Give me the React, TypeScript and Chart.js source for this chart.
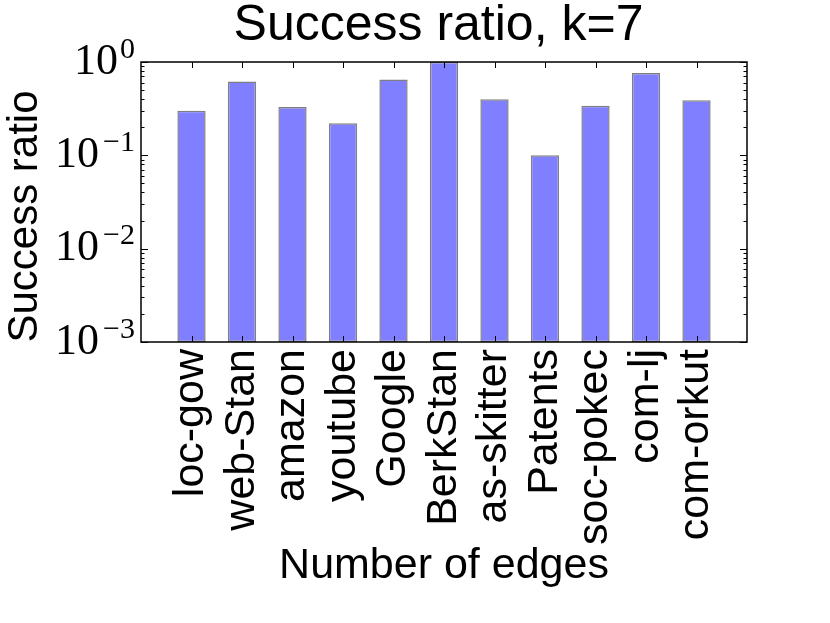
import { useEffect, useRef } from 'react';
import { Chart, registerables } from 'chart.js';

Chart.register(...registerables);

const categories = ['loc-gow', 'web-Stan', 'amazon', 'youtube', 'Google', 'BerkStan', 'as-skitter', 'Patents', 'soc-pokec', 'com-lj', 'com-orkut'];
const successRatio = [0.30, 0.62, 0.33, 0.22, 0.65, 1.0, 0.40, 0.10, 0.34, 0.76, 0.39];
const yDecades = [-3, -2, -1, 0];
const minorMultipliers = [2, 3, 4, 5, 6, 7, 8, 9];

const SANS = "'Liberation Sans', Arial, Helvetica, sans-serif";
const SERIF = "'Liberation Serif', 'Times New Roman', serif";

export default function App() {
  const ref = useRef<HTMLCanvasElement>(null);

  useEffect(() => {
    const canvas = ref.current;
    if (!canvas) return;

    const mplPlugin = {
      id: 'mplFrame',
      afterDraw(chart: any) {
        const { ctx, chartArea: a, scales } = chart;
        const xs = scales.x;
        const ys = scales.y;
        ctx.save();
        ctx.strokeStyle = '#000';
        ctx.lineWidth = 1;
        ctx.beginPath();
        // x major ticks (bottom + top), inward
        categories.forEach((_, i) => {
          const px = Math.round(xs.getPixelForValue(i + 1)) + 0.5;
          ctx.moveTo(px, a.bottom);
          ctx.lineTo(px, a.bottom - 6);
          ctx.moveTo(px, a.top);
          ctx.lineTo(px, a.top + 6);
        });
        // y major ticks
        yDecades.forEach((d) => {
          const py = Math.round(ys.getPixelForValue(Math.pow(10, d))) + 0.5;
          ctx.moveTo(a.left, py);
          ctx.lineTo(a.left + 7, py);
          ctx.moveTo(a.right, py);
          ctx.lineTo(a.right - 7, py);
        });
        // y minor ticks
        yDecades.slice(0, -1).forEach((d) => {
          minorMultipliers.forEach((m) => {
            const py = Math.round(ys.getPixelForValue(m * Math.pow(10, d))) + 0.5;
            ctx.moveTo(a.left, py);
            ctx.lineTo(a.left + 3.5, py);
            ctx.moveTo(a.right, py);
            ctx.lineTo(a.right - 3.5, py);
          });
        });
        ctx.stroke();

        // frame
        ctx.lineWidth = 1.5;
        ctx.strokeRect(a.left, a.top, a.right - a.left, a.bottom - a.top);

        // y tick labels 10^k
        ctx.fillStyle = '#000';
        ctx.textBaseline = 'alphabetic';
        ctx.textAlign = 'right';
        yDecades.forEach((d) => {
          const py = ys.getPixelForValue(Math.pow(10, d));
          const exp = d === 0 ? '0' : '\u2212' + String(-d);
          ctx.font = `30px ${SERIF}`;
          const ew = ctx.measureText(exp).width;
          ctx.fillText(exp, 135, py - 4.5);
          ctx.font = `44px ${SERIF}`;
          ctx.fillText('10', 135 - ew - (d === 0 ? 2 : 4), py + 11.5);
        });

        // y axis label
        ctx.save();
        ctx.translate(37, 216.5);
        ctx.rotate(-Math.PI / 2);
        ctx.textAlign = 'center';
        ctx.textBaseline = 'alphabetic';
        ctx.font = `42px ${SANS}`;
        ctx.fillText('Success ratio', 0, 0);
        ctx.restore();

        // title
        ctx.textAlign = 'center';
        ctx.textBaseline = 'alphabetic';
        ctx.font = `50px ${SANS}`;
        ctx.fillText('Success ratio, k=7', 438.5, 40);
        ctx.restore();
      },
    };

    const chart = new Chart(canvas, {
      type: 'bar',
      data: {
        datasets: [
          {
            data: categories.map((c, i) => ({ x: i + 1, y: successRatio[i] })),
            backgroundColor: '#7f7fff',
            borderColor: 'rgba(0,0,0,0.5)',
            borderWidth: 1.5,
            borderSkipped: false,
            barPercentage: 0.56,
            categoryPercentage: 1,
          },
        ],
      },
      options: {
        responsive: false,
        animation: false,
        devicePixelRatio: 1,
        layout: { padding: { top: 62, right: 83, left: 0, bottom: 0 } },
        plugins: {
          legend: { display: false },
          tooltip: { enabled: false },
          title: { display: false },
        },
        scales: {
          x: {
            type: 'linear',
            min: 0,
            max: 12,
            offset: false,
            grid: { display: false, drawTicks: false },
            border: { display: false },
            afterBuildTicks: (s: any) => {
              s.ticks = categories.map((_, i) => ({ value: i + 1 }));
            },
            afterFit: (s: any) => {
              s.height = 281;
            },
            ticks: {
              autoSkip: false,
              minRotation: 90,
              maxRotation: 90,
              padding: 7,
              color: '#000',
              font: { family: SANS, size: 43 },
              callback: (v: any) => categories[Number(v) - 1] ?? '',
            },
            title: {
              display: true,
              text: 'Number of edges',
              color: '#000',
              font: { family: SANS, size: 43 },
              padding: { top: 0, bottom: 31 },
            },
          },
          y: {
            type: 'logarithmic',
            min: 0.001,
            max: 1,
            grid: { display: false, drawTicks: false },
            border: { display: false },
            ticks: { display: false },
            afterFit: (s: any) => {
              s.width = 141;
            },
          },
        },
      },
      plugins: [mplPlugin],
    } as any);

    return () => chart.destroy();
  }, []);

  return (
    <div style={{ position: 'absolute', left: 0, top: 0, width: 830, height: 623, background: '#fff' }}>
      <canvas ref={ref} width={830} height={623} style={{ display: 'block', width: 830, height: 623 }} />
    </div>
  );
}
